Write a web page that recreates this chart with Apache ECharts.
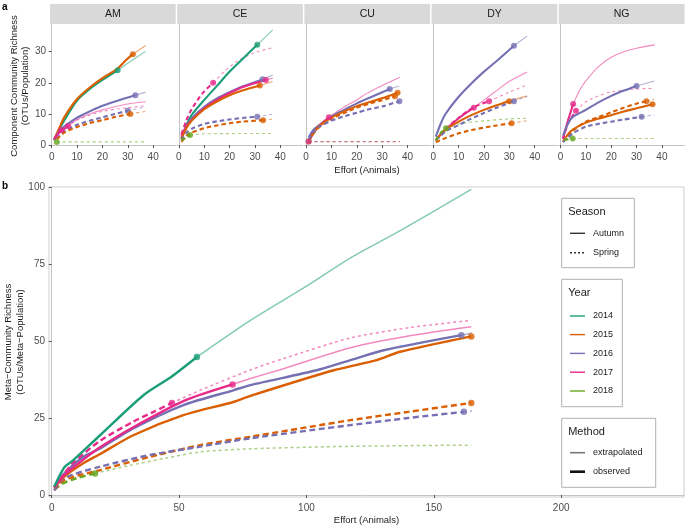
<!DOCTYPE html>
<html><head><meta charset="utf-8">
<script src="https://cdn.jsdelivr.net/npm/echarts@6/dist/echarts.min.js"></script>
<style>html,body{margin:0;padding:0;background:#fff}#c{width:685px;height:525px}</style>
</head><body><div id="c"></div>
<script>
// ---------- data ----------
const panels = ['AM', 'CE', 'CU', 'DY', 'NG'];
const years = [2014, 2015, 2016, 2017, 2018];
const seasons = ['Autumn', 'Spring'];
const methods = ['extrapolated', 'observed'];
const xTicksA = [0, 10, 20, 30, 40];
const yTicksA = [0, 10, 20, 30];
const xTicksB = [0, 50, 100, 150, 200];
const yTicksB = [0, 25, 50, 75, 100];

// each curve: year, season, observed points [effort, richness], extrapolated points
const curvesAM = [
  {year: 2014, season: 'Autumn', obs: [[1,1.5],[3,5],[5,8],[10,14.3],[15,18],[20,20.9],[26,24]], ext: [[26,24],[30,26.3],[37,30.1]]},
  {year: 2015, season: 'Autumn', obs: [[1,1.8],[3,5.5],[5,9],[10,14.8],[15,18.5],[20,21.5],[26,24.6],[29.3,27.3],[32,29.2]], ext: [[32,29.2],[37,32]]},
  {year: 2016, season: 'Autumn', obs: [[1,1.5],[3,4.5],[5,6],[10,8.8],[15,10.8],[20,12.6],[25,14],[33,16]], ext: [[33,16],[37,17]]},
  {year: 2017, season: 'Autumn', obs: [[1,1.8],[3,4],[6.5,6.1]], ext: [[6.5,6.1],[10,8.2],[15,10],[20,11.3],[25,12.3],[30,13.2],[37,13.9]]},
  {year: 2016, season: 'Spring', obs: [[2,2],[5,4.5],[10,6.5],[15,7.8],[20,8.9],[25,10],[30,11]], ext: [[30,11],[37,12.3]]},
  {year: 2015, season: 'Spring', obs: [[2,1.8],[5,4],[10,5.8],[15,7],[20,8],[25,9],[31,10]], ext: [[31,10],[37,10.8]]},
  {year: 2017, season: 'Spring', obs: [[1,2],[2.5,3.8],[3.8,4.8]], ext: [[3.8,4.8],[10,8],[20,10.8],[30,12],[37,12.6]]},
  {year: 2018, season: 'Spring', obs: [[2,1]], ext: [[2,1],[37,1]]}
];
const curvesCE = [
  {year: 2014, season: 'Autumn', obs: [[1,2],[3,6.5],[5,9.6],[10,14.5],[15,19],[20,23.6],[25,27.6],[30.9,32.2]], ext: [[30.9,32.2],[37,37]]},
  {year: 2017, season: 'Spring', obs: [[1,3.5],[3,8],[5,11.5],[9.3,16.6],[13.5,20]], ext: [[13.5,20],[18,23.7],[22.7,26.8],[29.3,29.5],[37,31.3]]},
  {year: 2016, season: 'Autumn', obs: [[1,2.5],[3,6],[5,8.5],[10,12.3],[15,15],[20,17],[25,18.8],[33,21.1]], ext: [[33,21.1],[37,22.5]]},
  {year: 2017, season: 'Autumn', obs: [[1,3],[3,6],[5,8],[10,11.8],[15,14.5],[20,16.7],[25,18.6],[34.3,20.9]], ext: [[34.3,20.9],[37,21.5]]},
  {year: 2015, season: 'Autumn', obs: [[1,2],[3,5.5],[5,7.8],[10,11.5],[15,14],[20,16],[25,17.5],[31.9,19.1]], ext: [[31.9,19.1],[37,20.4]]},
  {year: 2016, season: 'Spring', obs: [[1,1.5],[3,4],[5,5.2],[10,6.8],[15,7.6],[20,8.2],[25,8.7],[30.9,9.1]], ext: [[30.9,9.1],[37,9.9]]},
  {year: 2015, season: 'Spring', obs: [[1,1],[3,3],[5,4],[10,5.4],[15,6.3],[20,7],[25,7.5],[33.2,8]], ext: [[33.2,8],[37,8.3]]},
  {year: 2018, season: 'Spring', obs: [[1,1.5],[4.4,3.2]], ext: [[4.4,3.2],[10,3.6],[37,3.7]]}
];
const curvesCU = [
  {year: 2018, season: 'Spring', obs: [[1,1.1]], ext: [[1,1.1],[37,1.1]]},
  {year: 2017, season: 'Spring', obs: [[1,1.1]], ext: [[1,1.1],[37,1.1]]},
  {year: 2016, season: 'Autumn', obs: [[1,2.4],[3,5],[5,6.3],[10,9.2],[15,11.3],[20,13.4],[25,15.2],[33,18]], ext: [[33,18],[36.7,19]]},
  {year: 2017, season: 'Autumn', obs: [[1,1],[3,4],[5,6],[9,8.9]], ext: [[9,8.9],[15,12.2],[20,14.5],[24,16.6],[30.4,19.3],[37,21.8]]},
  {year: 2015, season: 'Spring', obs: [[1,1.2],[3,3.8],[5,5.6],[10,8.4],[15,10.3],[20,12],[25,13.3],[30,14.4],[35,15.7]], ext: [[35,15.7],[36.5,16]]},
  {year: 2015, season: 'Autumn', obs: [[1,1.5],[3,4],[5,6],[10,8.8],[15,10.8],[20,12.5],[25,13.8],[30,15],[36.1,16.8]], ext: [[36.1,16.8],[37,17]]},
  {year: 2016, season: 'Spring', obs: [[1,1.8],[3,4.2],[5,5.8],[10,7.8],[15,9.2],[20,10.4],[24,11.3],[30.4,12.5],[36.8,14.1]], ext: []}
];
const curvesDY = [
  {year: 2016, season: 'Autumn', obs: [[1,2.7],[3,7],[5,10.2],[10,15.5],[15,19.8],[20,23.6],[25,27],[31.8,31.9]], ext: [[31.8,31.9],[37,35]]},
  {year: 2017, season: 'Autumn', obs: [[1,1.5],[3,3.5],[5,5],[10,8.6],[16,12]], ext: [[16,12],[20,14.5],[25,17.5],[30,20.5],[37,23.5]]},
  {year: 2017, season: 'Spring', obs: [[1,1.5],[3,3.5],[5,5.3],[9.8,8.6],[16,12.2],[22,14.1]], ext: [[22,14.1],[30,17],[37,19.3]]},
  {year: 2015, season: 'Autumn', obs: [[1,1.5],[3,3.5],[5,5],[10,7.5],[15,9.6],[20,11.3],[25,12.8],[29.9,14.1]], ext: [[29.9,14.1],[37,15.8]]},
  {year: 2016, season: 'Spring', obs: [[1,1.5],[3,3],[5,4.5],[10,6.4],[15,8.5],[20,10.3],[25,12],[31.8,14.1]], ext: [[31.8,14.1],[37,15.6]]},
  {year: 2015, season: 'Spring', obs: [[1,0.9],[5,2.3],[10,3.75],[15,4.8],[20,5.6],[25,6.3],[30.9,7]], ext: [[30.9,7],[37,7.8]]},
  {year: 2018, season: 'Spring', obs: [[1,1.5],[3,4],[5,5.4]], ext: [[5,5.4],[10,6.8],[16.4,7.5],[30,8.4],[37,8.6]]}
];
const curvesNG = [
  {year: 2017, season: 'Autumn', obs: [[1,2],[3,8],[5,13.2]], ext: [[5,13.2],[7.5,17.5],[10,20.6],[15,25.2],[20,28.2],[25,30],[30,31.1],[37.2,32.2]]},
  {year: 2017, season: 'Spring', obs: [[1,2],[3,7],[6.1,11]], ext: [[6.1,11],[10,13.9],[15,15.8],[20,17.1],[30,18],[37,18.2]]},
  {year: 2016, season: 'Autumn', obs: [[1,3],[3,7],[5,9.1],[10,11.3],[15,13.7],[20,15.8],[25,17.5],[30,19]], ext: [[30,19],[37,20.6]]},
  {year: 2015, season: 'Spring', obs: [[1,1],[3,3],[5,4.7],[10,7.5],[15,9],[20,10.5],[25,12],[30,13.3],[33.9,14.1]], ext: [[33.9,14.1],[37,14.7]]},
  {year: 2015, season: 'Autumn', obs: [[1,1],[3,3.5],[5,5],[10,7.2],[15,8.5],[20,9.6],[25,10.8],[30,11.8],[36.3,13.1]], ext: [[36.3,13.1],[37,13.2]]},
  {year: 2016, season: 'Spring', obs: [[1,1],[3,2.5],[5,3.8],[10,5.9],[15,6.8],[20,7.5],[25,8.2],[32,9.1]], ext: [[32,9.1],[37,9.7]]},
  {year: 2018, season: 'Spring', obs: [[1.4,1.6],[4.8,2.1]], ext: [[4.8,2.1],[37,2.1]]}
];
const curvesMeta = [
  {year: 2018, season: 'Spring', obs: [[1,1.8],[5,4],[10,5.5],[17,7]], ext: [[17,7],[30,9.5],[45,12],[58.3,14],[78,15],[117.3,15.8],[164.7,16.2]]},
  {year: 2015, season: 'Spring', obs: [[1,1.5],[5,4.9],[19,8.1],[38.6,12.4],[58.3,16.2],[78,18.9],[117.3,24.3],[140,27],[164.7,29.9]], ext: []},
  {year: 2016, season: 'Spring', obs: [[1,1.5],[5,5.5],[19,9.2],[38.6,13],[58.3,15.7],[78,18.4],[117.3,22.7],[140,25],[161.8,27]], ext: [[161.8,27],[165,27.3]]},
  {year: 2015, season: 'Autumn', obs: [[1,2.3],[5,6],[12.4,10.3],[19,13.3],[32,19.4],[51.7,25.9],[71.3,30.2],[78,32.2],[110.7,40.5],[127.6,43.8],[136.8,46.5],[164.7,51.5]], ext: []},
  {year: 2016, season: 'Autumn', obs: [[1,2.5],[5,7],[12.4,12.4],[19,15.1],[32,21.6],[51.7,29.2],[71.3,34],[78,35.7],[104,40.5],[117.3,43.8],[130.3,47],[160.8,51.9]], ext: [[160.8,51.9],[165,52.6]]},
  {year: 2017, season: 'Autumn', obs: [[1,2.5],[5,6.5],[12.4,11.5],[19,15.5],[32,22],[51.7,30.5],[71,35.9]], ext: [[71,35.9],[78,37.8],[91,41],[117.3,47.8],[140,51.6],[164.7,54.6]]},
  {year: 2017, season: 'Spring', obs: [[1,2.5],[5,7],[8.5,10.5],[19,17.6],[32,23.8],[40,27],[47.2,29.9]], ext: [[47.2,29.9],[58.3,34],[78,40.6],[91,44.3],[117.3,51],[140,54.3],[164.7,56.7]]},
  {year: 2014, season: 'Autumn', obs: [[1,2.7],[5,9],[8.5,11.3],[19,19.4],[36,32.4],[47,38.4],[57,44.8]], ext: [[57,44.8],[78,56.7],[100,67.8],[117.3,77],[137,85.9],[164.7,99.2]]}
];
const panelCurves = [curvesAM, curvesCE, curvesCU, curvesDY, curvesNG];

// ---------- styling / layout ----------
const yearColor = {2014: '#1B9E77', 2015: '#D95F02', 2016: '#7570B3', 2017: '#E7298A', 2018: '#66A61E'};
const FONT = '"Liberation Sans", Arial, Helvetica, sans-serif';
const PX0 = 50, PSTEP = 127.2, PW = 125.7, PTOP = 24, PH = 124;

const grids = [], xAxes = [], yAxes = [], series = [], graphics = [];

panels.forEach((p, i) => {
  grids.push({left: PX0 + PSTEP * i, top: PTOP, width: PW, height: PH, containLabel: false, outerBoundsMode: 'none'});
  xAxes.push({
    type: 'value', gridIndex: i, min: -0.67, max: 48.9,
    axisLine: {show: true, lineStyle: {color: '#c4c4c4', width: 1}},
    axisTick: {show: true, customValues: xTicksA, length: 3, lineStyle: {color: '#555'}},
    axisLabel: {show: true, customValues: xTicksA, color: '#4d4d4d', fontSize: 10, margin: 4.5, fontFamily: FONT},
    splitLine: {show: false}
  });
  yAxes.push({
    type: 'value', gridIndex: i, min: -0.96, max: 38.9,
    axisLine: {show: true, lineStyle: {color: '#c4c4c4', width: 1}},
    axisTick: {show: i === 0, customValues: yTicksA, length: 3, lineStyle: {color: '#555'}},
    axisLabel: {show: i === 0, customValues: yTicksA, color: '#4d4d4d', fontSize: 10, margin: 4, fontFamily: FONT},
    splitLine: {show: false},
    name: i === 0 ? 'Component Community Richness\n(OTUs/Population)' : '',
    nameLocation: 'middle', nameGap: 18.5, nameMoveOverlap: false,
    nameTextStyle: {fontSize: 9.5, color: '#1a1a1a', lineHeight: 11.5, fontFamily: FONT}
  });
  graphics.push({type: 'rect', shape: {x: PX0 + PSTEP * i, y: 4, width: PW, height: 20}, style: {fill: '#d9d9d9'}, silent: true});
  graphics.push({type: 'text', x: PX0 + PSTEP * i + PW / 2, y: 14.5, style: {text: p, fill: '#1a1a1a', font: '10.5px ' + FONT, textAlign: 'center', textVerticalAlign: 'middle'}, silent: true});
});

// panel b
const BI = 5;
grids.push({left: 49, top: 187, width: 635, height: 310, containLabel: false, outerBoundsMode: 'none', show: true, borderColor: '#cfcfcf', borderWidth: 1, backgroundColor: 'transparent'});
xAxes.push({
  type: 'value', gridIndex: BI, min: -1.06, max: 248.2,
  axisLine: {show: true, lineStyle: {color: '#c4c4c4'}},
  axisTick: {show: true, customValues: xTicksB, length: 3, lineStyle: {color: '#555'}},
  axisLabel: {show: true, customValues: xTicksB, color: '#4d4d4d', fontSize: 10, margin: 6.5, fontFamily: FONT},
  splitLine: {show: false},
  name: 'Effort (Animals)', nameLocation: 'middle', nameGap: 18, nameMoveOverlap: false,
  nameTextStyle: {fontSize: 9.5, color: '#1a1a1a', fontFamily: FONT}
});
yAxes.push({
  type: 'value', gridIndex: BI, min: -0.65, max: 100,
  axisLine: {show: true, lineStyle: {color: '#c4c4c4'}},
  axisTick: {show: true, customValues: yTicksB, length: 3, lineStyle: {color: '#555'}},
  axisLabel: {show: true, customValues: yTicksB, color: '#4d4d4d', fontSize: 10, margin: 4, fontFamily: FONT},
  splitLine: {show: false},
  name: 'Meta\u2212Community Richness\n(OTUs/Meta\u2212Population)',
  nameLocation: 'middle', nameGap: 22.5, nameMoveOverlap: false,
  nameTextStyle: {fontSize: 9.5, color: '#1a1a1a', lineHeight: 12, fontFamily: FONT}
});

function addCurves(curves, gi, big) {
  curves.forEach(c => {
    const col = yearColor[c.year];
    const spring = c.season === 'Spring';
    if (c.ext && c.ext.length > 1) {
      series.push({
        type: 'line', xAxisIndex: gi, yAxisIndex: gi, data: c.ext, smooth: 0.25,
        symbol: 'none', silent: true, z: 2,
        lineStyle: {color: col, opacity: 0.55, width: big ? 1.5 : 1.1, type: spring ? [3, 3] : 'solid'}
      });
    }
    if (c.obs.length > 1) {
      series.push({
        type: 'line', xAxisIndex: gi, yAxisIndex: gi, data: c.obs, smooth: 0.25,
        symbol: 'none', silent: true, z: 3,
        lineStyle: {color: col, width: big ? 2.4 : 2.1, type: spring ? (big ? [6, 3.5] : [4.5, 3]) : 'solid'}
      });
    }
    series.push({
      type: 'scatter', xAxisIndex: gi, yAxisIndex: gi, data: [c.obs[c.obs.length - 1]],
      symbol: 'circle', symbolSize: big ? 6.5 : 6, itemStyle: {color: col}, silent: true, z: 4
    });
  });
}
panelCurves.forEach((cs, i) => addCurves(cs, i, false));
addCurves(curvesMeta, BI, true);

// texts: panel letters and shared x title of (a)
graphics.push({type: 'text', x: 2, y: 7, style: {text: 'a', fill: '#000', font: 'bold 10px ' + FONT, textVerticalAlign: 'middle'}});
graphics.push({type: 'text', x: 2, y: 186, style: {text: 'b', fill: '#000', font: 'bold 10px ' + FONT, textVerticalAlign: 'middle'}});
graphics.push({type: 'text', x: 367, y: 170.5, style: {text: 'Effort (Animals)', fill: '#1a1a1a', font: '9.5px ' + FONT, textAlign: 'center', textVerticalAlign: 'middle'}});

// legends inside panel b
function legendBox(x, y, w, h, title) {
  graphics.push({type: 'rect', shape: {x: x, y: y, width: w, height: h}, style: {fill: '#fff', stroke: '#b0b0b0', lineWidth: 1}, z: 10});
  graphics.push({type: 'text', x: x + 6.5, y: y + 13.5, style: {text: title, fill: '#1a1a1a', font: '11px ' + FONT, textVerticalAlign: 'middle'}, z: 11});
}
function legendItem(y, label, stroke, width, dash) {
  graphics.push({type: 'line', shape: {x1: 570, y1: y, x2: 585, y2: y}, style: {stroke: stroke, lineWidth: width, lineDash: dash || null}, z: 11});
  graphics.push({type: 'text', x: 593, y: y, style: {text: label, fill: '#1a1a1a', font: '9px ' + FONT, textVerticalAlign: 'middle'}, z: 11});
}
legendBox(561.7, 198.3, 72.6, 69.4, 'Season');
legendItem(233.3, seasons[0], '#333', 1.4, null);
legendItem(252.7, seasons[1], '#333', 1.4, [2, 2]);
legendBox(561.7, 279.3, 60.6, 127.4, 'Year');
const yearY = [316, 334.6, 353.4, 372.2, 391];
years.forEach((yr, k) => legendItem(yearY[k], String(yr), yearColor[yr], 1.4, null));
legendBox(561.7, 418.3, 94, 69, 'Method');
legendItem(452.7, methods[0], '#777', 1.6, null);
legendItem(471.7, methods[1], '#111', 2.6, null);

const chart = echarts.init(document.getElementById('c'), null, {renderer: 'canvas'});
chart.setOption({
  animation: false,
  backgroundColor: '#fff',
  grid: grids, xAxis: xAxes, yAxis: yAxes, series: series,
  graphic: graphics
});
</script>
</body></html>
